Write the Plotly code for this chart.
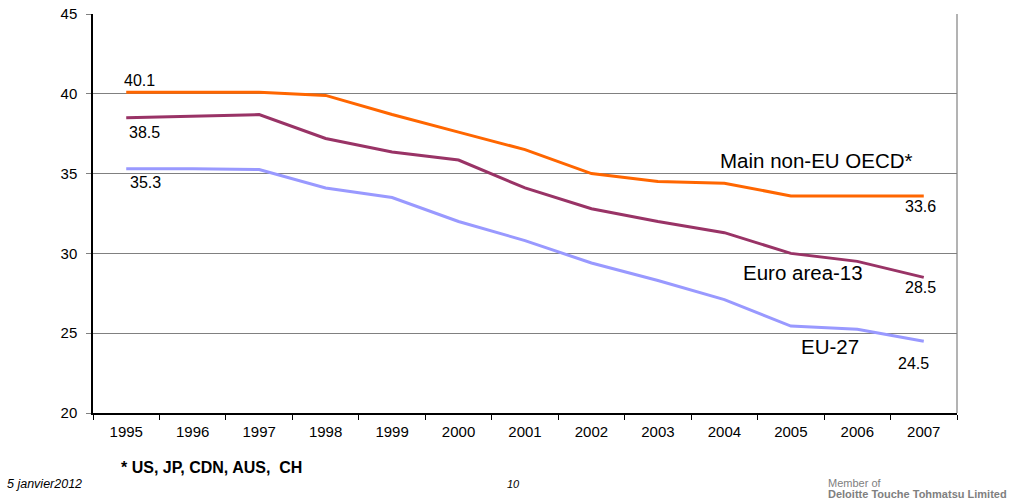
import plotly.graph_objects as go

years = ["1995", "1996", "1997", "1998", "1999", "2000", "2001",
         "2002", "2003", "2004", "2005", "2006", "2007"]
non_eu_oecd = [40.1, 40.1, 40.1, 39.9, 38.7, 37.6, 36.5, 35.0, 34.5, 34.4, 33.6, 33.6, 33.6]
euro_area_13 = [38.5, 38.6, 38.7, 37.2, 36.35, 35.85, 34.1, 32.8, 32.0, 31.3, 30.0, 29.5, 28.5]
eu_27 = [35.3, 35.3, 35.25, 34.1, 33.5, 32.0, 30.8, 29.4, 28.3, 27.1, 25.45, 25.25, 24.5]

series = [
    ("Main non-EU OECD*", non_eu_oecd, "#FF6600"),
    ("Euro area-13", euro_area_13, "#993366"),
    ("EU-27", eu_27, "#9999FF"),
]

FONT = "Liberation Sans, Arial, sans-serif"

fig = go.Figure()
for name, vals, color in series:
    fig.add_trace(go.Scatter(x=years, y=vals, mode="lines", name=name,
                             line=dict(color=color, width=3)))

ann = []
# value labels at the first and last points
first_offsets = [(13, 12), (18, -15), (19, -14)]
last_offsets = [(-3, -11), (-3, -10), (-10, -22)]
for (name, vals, color), fo, lo in zip(series, first_offsets, last_offsets):
    ann.append(dict(x=0, y=vals[0], text=f"{vals[0]:.1f}", xshift=fo[0], yshift=fo[1]))
    ann.append(dict(x=len(years) - 1, y=vals[-1], text=f"{vals[-1]:.1f}", xshift=lo[0], yshift=lo[1]))
for a in ann:
    a.update(xref="x", yref="y", showarrow=False,
             font=dict(family=FONT, size=16, color="#000000"))

# series names placed beside their lines
name_pos = [(10.38, 35.8), (10.18, 28.83), (10.59, 24.14)]
for (name, vals, color), (px, py) in zip(series, name_pos):
    ann.append(dict(x=px, y=py, xref="x", yref="y", text=name, showarrow=False,
                    font=dict(family=FONT, size=20.5, color="#000000")))

# footer texts
ann += [
    dict(x=119, y=467, xref="paper", yref="paper", text="<b>* US, JP, CDN, AUS,  CH</b>"),
    dict(x=5, y=484, xref="paper", yref="paper", text="<i>5 janvier2012</i>"),
    dict(x=505, y=484, xref="paper", yref="paper", text="<i>10</i>"),
    dict(x=826, y=483, xref="paper", yref="paper", text="Member of"),
    dict(x=826, y=494, xref="paper", yref="paper", text="<b>Deloitte Touche Tohmatsu Limited</b>"),
]
W, H = 1013, 502
L, R, T, B = 93, 56, 14, 89
pw, ph = W - L - R, H - T - B
footer_fonts = [16, 12.5, 11, 11, 11]
footer_colors = ["#000000", "#000000", "#000000", "#808080", "#808080"]
for a, fs, fc in zip(ann[-5:], footer_fonts, footer_colors):
    px, py = a["x"], a["y"]
    a.update(x=(px - L) / pw, y=(H - B - py) / ph, xanchor="left", yanchor="middle",
             showarrow=False, font=dict(family=FONT, size=fs, color=fc))

fig.update_layout(
    width=W, height=H,
    margin=dict(l=L, r=R, t=T, b=B, autoexpand=False),
    paper_bgcolor="white", plot_bgcolor="white",
    showlegend=False,
    annotations=ann,
    font=dict(family=FONT, size=15, color="#000000"),
    xaxis=dict(type="category", tickson="boundaries", ticks="outside", ticklen=5,
               tickcolor="#000000", showline=True, linecolor="#000000", linewidth=1.5,
               showgrid=False, tickfont=dict(size=15), range=[-0.5, 12.5],
               ticklabelstandoff=4, automargin=False),
    yaxis=dict(range=[20, 45], dtick=5, ticks="outside", ticklen=5, tickcolor="#808080",
               showline=True, linecolor="#000000", linewidth=1.5,
               showgrid=True, gridcolor="#808080", gridwidth=1.2,
               zeroline=False, tickfont=dict(size=15), ticklabelstandoff=6,
               automargin=False),
    shapes=[dict(type="line", xref="paper", yref="paper", x0=1, x1=1, y0=0, y1=1,
                 line=dict(color="#808080", width=1.2))],
)

fig.write_html("out.html")
